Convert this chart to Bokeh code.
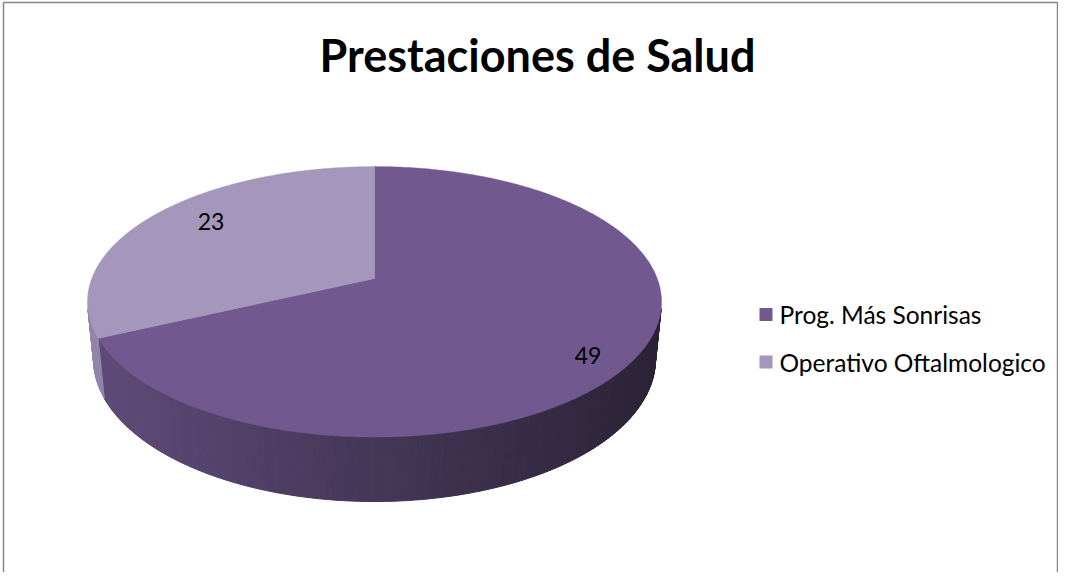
import numpy as np
from bokeh.plotting import figure
from bokeh.models import Range1d
from bokeh.core.properties import value
from bokeh.embed import file_html
from bokeh.resources import INLINE

# ---- data ----
categories = ["Prog. Más Sonrisas", "Operativo Oftalmologico"]
values = [49, 23]
data_labels = ["49", "23"]
title_text = "Prestaciones de Salud"

# ---- styles ----
top_colors = ["#71588F", "#A597BB"]
side_left_colors = ["#5F4B79", "#9385AB"]
side_right_colors = ["#2A2236", "#4A4260"]
FONT = "Lato"

# ---- perspective parameters (layout) ----
CX, CY = 374.0, 278.0     # projected pie centre (page pixels)
K = 1453.0                # scale
DIST = 5.14               # camera distance (radius units)
SIN_PHI = 0.464
PHI = np.arcsin(SIN_PHI)
DEPTH = 0.232             # pie thickness (radius units)
LABEL_R = [0.87, 0.78]
LABEL_SHIFT = [5.5, 4.3]


def proj(theta_deg, r=1.0, y=0.0):
    t = np.radians(theta_deg)
    px = r * np.sin(t)
    pz = r * np.cos(t)
    c, s = np.cos(PHI), np.sin(PHI)
    d = DIST + pz * c - y * s
    return CX + K * px / d, CY - K * (y * c + pz * s) / d


def hex2rgb(h):
    h = h.lstrip("#")
    return np.array([int(h[i:i + 2], 16) for i in (0, 2, 4)], dtype=float)


def mix(a, b, f):
    ca, cb = hex2rgb(a), hex2rgb(b)
    c = ca + (cb - ca) * f
    return "#%02x%02x%02x" % tuple(int(round(v)) for v in c)


total = float(sum(values))
spans = []
acc = 0.0
for v in values:
    a0 = acc / total * 360.0
    acc += v
    a1 = acc / total * 360.0
    spans.append((a0, a1))

W, H = 1058, 572
p = figure(width=W, height=H, x_range=Range1d(0, W), y_range=Range1d(H, 0),
           output_backend="svg", toolbar_location=None, min_border=0,
           background_fill_color="white", border_fill_color="white")
p.axis.visible = False
p.xgrid.visible = False
p.ygrid.visible = False
p.outline_line_color = None

# chart border
p.line([3, 3], [2, H], line_color="#868686", line_width=1.5)
p.line([3, W], [2, 2], line_color="#868686", line_width=1.5)
p.line([W - 1, W - 1], [2, H], line_color="#868686", line_width=1.5)

# visible side range: cos(theta) < -1/(D cos phi)
lim = np.degrees(np.arccos(-1.0 / (DIST * np.cos(PHI))))
vis0, vis1 = lim, 360.0 - lim
xl, _ = proj(vis1)
xr, _ = proj(vis0)

sx, sy, sc = [], [], []
for i, (a0, a1) in enumerate(spans):
    lo, hi = max(a0, vis0), min(a1, vis1)
    if hi <= lo:
        continue
    n = max(2, int((hi - lo) / 0.6))
    th = np.linspace(lo, hi, n + 1)
    for j in range(n):
        t0, t1 = th[j], th[j + 1]
        x0, y0 = proj(t0)
        x1, y1 = proj(t1)
        x0b, y0b = proj(t0, y=-DEPTH)
        x1b, y1b = proj(t1, y=-DEPTH)
        sx.append([x0, x1, x1b, x0b])
        sy.append([y0, y1, y1b, y0b])
        f = ((x0 + x1) / 2 - xl) / (xr - xl)
        f = min(max(f, 0.0), 1.0)
        sc.append(mix(side_left_colors[i], side_right_colors[i], f))
p.patches(sx, sy, fill_color=sc, line_color=sc, line_width=1)

# top faces
tx, ty = [], []
for (a0, a1) in spans:
    th = np.linspace(a0, a1, 300)
    xs, ys = proj(th)
    tx.append([CX] + list(xs))
    ty.append([CY] + list(ys))
p.patches(tx, ty, fill_color=top_colors, line_color=top_colors, line_width=0.5)

# data labels
lx, ly = [], []
for i, (a0, a1) in enumerate(spans):
    m = (a0 + a1) / 2 + LABEL_SHIFT[i]
    x, y = proj(m, r=LABEL_R[i])
    lx.append(float(x))
    ly.append(float(y))
p.text(lx, ly, text=data_labels, text_font=value(FONT), text_font_size="23px",
       text_color="black", text_align="center", text_baseline="middle")

# title
p.text([537], [54], text=[title_text], text_font=value(FONT), text_font_size="45px",
       text_font_style="bold", text_color="black", text_align="center",
       text_baseline="middle")

# legend
leg_y = [314 + 47.5 * i for i in range(len(categories))]
p.rect([765.5] * len(categories), leg_y, width=13, height=13,
       fill_color=top_colors, line_color=None)
p.text([779] * len(categories), leg_y, text=categories,
       text_font=value(FONT), text_font_size="24.5px", text_color="black",
       text_align="left", text_baseline="middle")

open("out.html", "w").write(file_html(p, INLINE))
